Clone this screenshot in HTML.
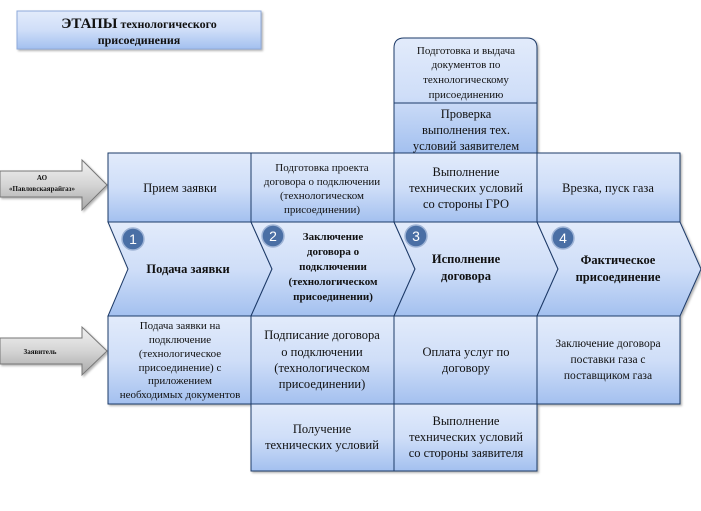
<!DOCTYPE html>
<html><head><meta charset="utf-8"><style>
html,body{margin:0;padding:0;background:#fff;width:701px;height:511px;overflow:hidden}
svg{display:block}
text{font-family:"Liberation Serif",serif;fill:#111}
</style></head><body>
<svg width="701" height="511" viewBox="0 0 701 511" xmlns="http://www.w3.org/2000/svg">
<defs>
<linearGradient id="g" x1="0" y1="0" x2="0" y2="1">
<stop offset="0" stop-color="#e2ebfb"/><stop offset="0.5" stop-color="#cfdef8"/><stop offset="1" stop-color="#a3c0ef"/>
</linearGradient>
<linearGradient id="ga" x1="0" y1="0" x2="0" y2="1">
<stop offset="0" stop-color="#f2f2f2"/><stop offset="0.5" stop-color="#d4d4d4"/><stop offset="1" stop-color="#a8a8a8"/>
</linearGradient>
<filter id="sh" x="-5%" y="-5%" width="115%" height="115%"><feDropShadow dx="1.5" dy="1.5" stdDeviation="1" flood-color="#000" flood-opacity="0.3"/></filter>
</defs>

<!-- title -->
<rect x="17" y="11" width="244" height="38" fill="url(#g)" stroke="#8eaadb" stroke-width="1" filter="url(#sh)"/>
<text x="139" y="28" text-anchor="middle" font-weight="bold" font-size="12"><tspan font-size="15">ЭТАПЫ</tspan> технологического</text>
<text x="139" y="44" text-anchor="middle" font-weight="bold" font-size="12">присоединения</text>

<!-- arrows -->
<g stroke="#777" stroke-width="1" fill="url(#ga)" filter="url(#sh)">
<path d="M0 171 H82 V160 L107 185 L82 210 V197 H0 Z"/>
<path d="M0 338 H82 V327 L107 351 L82 375 V364 H0 Z"/>
</g>
<text x="42" y="180" text-anchor="middle" font-size="7" font-weight="bold">АО</text>
<text x="42" y="191" text-anchor="middle" font-size="7" font-weight="bold">«Павловскаярайгаз»</text>
<text x="40" y="354" text-anchor="middle" font-size="7" font-weight="bold">Заявитель</text>

<g stroke="#1f3a68" stroke-width="1" fill="url(#g)" filter="url(#sh)">
<!-- stack col3 -->
<path d="M394 153 V48 Q394 38 404 38 H527 Q537 38 537 48 V153 Z"/>
<line x1="394" y1="103" x2="537" y2="103"/>
<!-- top row -->
<rect x="108" y="153" width="143" height="69"/>
<rect x="251" y="153" width="143" height="69"/>
<rect x="394" y="153" width="143" height="69"/>
<rect x="537" y="153" width="143" height="69"/>
<!-- bottom rows -->
<rect x="108" y="316" width="143" height="88"/>
<rect x="251" y="316" width="143" height="88"/>
<rect x="394" y="316" width="143" height="88"/>
<rect x="537" y="316" width="143" height="88"/>
<rect x="251" y="404" width="143" height="67"/>
<rect x="394" y="404" width="143" height="67"/>
<!-- chevrons -->
<path d="M108 222 H251 L272 269 L251 316 H108 L128 269 Z"/>
<path d="M251 222 H394 L415 269 L394 316 H251 L272 269 Z"/>
<path d="M394 222 H537 L558 269 L537 316 H394 L415 269 Z"/>
<path d="M537 222 H680 L701 269 L680 316 H537 L558 269 Z"/>
</g>

<!-- circles -->
<g fill="#4a6fa5" stroke="#9fb4d6" stroke-width="1.5">
<circle cx="133" cy="239" r="11"/><circle cx="273" cy="236" r="11"/><circle cx="416" cy="236" r="11"/><circle cx="563" cy="238" r="11"/>
</g>
<g font-family="Liberation Sans,sans-serif" font-size="14" text-anchor="middle">
<text x="133" y="244" style="fill:#fff;font-family:'Liberation Sans',sans-serif">1</text>
<text x="273" y="241" style="fill:#fff;font-family:'Liberation Sans',sans-serif">2</text>
<text x="416" y="241" style="fill:#fff;font-family:'Liberation Sans',sans-serif">3</text>
<text x="563" y="243" style="fill:#fff;font-family:'Liberation Sans',sans-serif">4</text>
</g>

<!-- stack text -->
<g font-size="11" text-anchor="middle">
<text x="466" y="54">Подготовка и выдача</text>
<text x="466" y="68">документов по</text>
<text x="466" y="83">технологическому</text>
<text x="466" y="98">присоединению</text>
</g>
<g font-size="12.5" text-anchor="middle">
<text x="466" y="118">Проверка</text>
<text x="466" y="134">выполнения тех.</text>
<text x="466" y="150">условий заявителем</text>
</g>

<!-- top row text -->
<g font-size="12.5" text-anchor="middle">
<text x="180" y="192">Прием заявки</text>
<text x="466" y="176">Выполнение</text>
<text x="466" y="192">технических условий</text>
<text x="466" y="208">со стороны ГРО</text>
<text x="608" y="192">Врезка, пуск газа</text>
</g>
<g font-size="11" text-anchor="middle">
<text x="322" y="171">Подготовка проекта</text>
<text x="322" y="185">договора о подключении</text>
<text x="322" y="199">(технологическом</text>
<text x="322" y="213">присоединении)</text>
</g>

<!-- chevron text -->
<g font-size="12.5" font-weight="bold" text-anchor="middle">
<text x="188" y="273">Подача заявки</text>
<text x="466" y="263">Исполнение</text>
<text x="466" y="280">договора</text>
<text x="618" y="264">Фактическое</text>
<text x="618" y="281">присоединение</text>
</g>
<g font-size="11" font-weight="bold" text-anchor="middle">
<text x="333" y="240">Заключение</text>
<text x="333" y="255">договора о</text>
<text x="333" y="270">подключении</text>
<text x="333" y="285">(технологическом</text>
<text x="333" y="300">присоединении)</text>
</g>

<!-- bottom text -->
<g font-size="11" text-anchor="middle">
<text x="180" y="329">Подача заявки на</text>
<text x="180" y="343">подключение</text>
<text x="180" y="357">(технологическое</text>
<text x="180" y="371">присоединение) с</text>
<text x="180" y="384">приложением</text>
<text x="180" y="398">необходимых документов</text>
</g>
<g font-size="12.5" text-anchor="middle">
<text x="322" y="339">Подписание договора</text>
<text x="322" y="356">о подключении</text>
<text x="322" y="372">(технологическом</text>
<text x="322" y="388">присоединении)</text>
<text x="466" y="356">Оплата услуг по</text>
<text x="466" y="372">договору</text>
<text x="322" y="433">Получение</text>
<text x="322" y="449">технических условий</text>
<text x="466" y="425">Выполнение</text>
<text x="466" y="441">технических условий</text>
<text x="466" y="457">со стороны заявителя</text>
</g>
<g font-size="11.5" text-anchor="middle">
<text x="608" y="347">Заключение договора</text>
<text x="608" y="363">поставки газа с</text>
<text x="608" y="379">поставщиком газа</text>
</g>
</svg>
</body></html>
